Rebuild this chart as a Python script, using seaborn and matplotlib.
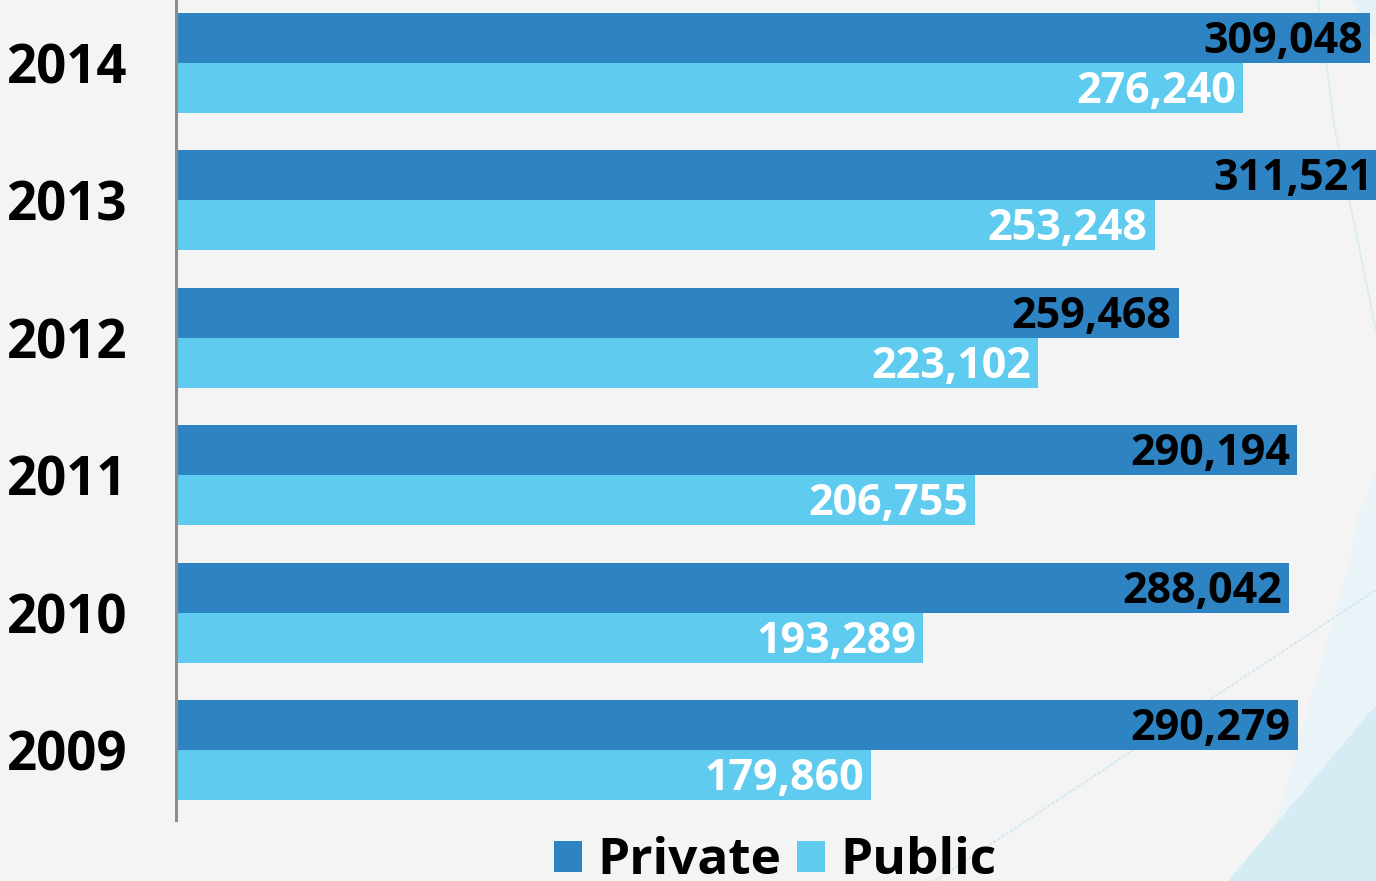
import matplotlib
matplotlib.use("Agg")
import matplotlib.pyplot as plt
from matplotlib.patches import Polygon, Patch
from matplotlib.lines import Line2D
import pandas as pd
import seaborn as sns

# Enrolment by sector, newest year first
years = ["2014", "2013", "2012", "2011", "2010", "2009"]
private = [309048, 311521, 259468, 290194, 288042, 290279]
public = [276240, 253248, 223102, 206755, 193289, 179860]
sectors = ["Private", "Public"]

bar_colors = ["#2E83C3", "#5ECBEF"]
value_colors = ["#000000", "#FFFFFF"]
bg = "#F4F4F4"

df = pd.DataFrame({
    "Year": years * 2,
    "Sector": [sectors[0]] * len(years) + [sectors[1]] * len(years),
    "Students": private + public,
})

sns.set_theme(style="white")
plt.rcParams["font.family"] = ["Open Sans", "DejaVu Sans"]

W, H = 1376, 881
fig = plt.figure(figsize=(W / 100, H / 100), dpi=100, facecolor=bg)


def px(x, y):
    """Pixel position (origin top-left) to figure fraction."""
    return (x / W, 1 - y / H)


# soft decorative shapes in the lower-right corner
fig.add_artist(Polygon([px(1376, 470), px(1357, 520), px(1350, 560), px(1277, 820),
                        px(1262, 881), px(1376, 881)], closed=True,
                       transform=fig.transFigure, facecolor="#EAF3F7",
                       edgecolor="none", zorder=0))
fig.add_artist(Polygon([px(1376, 705), px(1228, 881), px(1376, 881)], closed=True,
                       transform=fig.transFigure, facecolor="#D6ECF5",
                       edgecolor="none", zorder=0))
fig.add_artist(Polygon([px(1352, 0), px(1376, 0), px(1376, 40)], closed=True,
                       transform=fig.transFigure, facecolor="#E6F1F6",
                       edgecolor="none", zorder=0))
fig.add_artist(Line2D([935 / W, 1376 / W], [1 - 881 / H, 1 - 590 / H],
                      transform=fig.transFigure, color="#CCE6F2", lw=1.2,
                      ls=(0, (2, 1)), zorder=0))
fig.add_artist(Line2D([1318 / W, 1335 / W, 1376 / W], [1, 1 - 130 / H, 1 - 330 / H],
                      transform=fig.transFigure, color="#D8ECF5", lw=1.2, zorder=0))

ax = fig.add_axes([176 / W, 61 / H, 1200 / W, 820 / H])
ax.set_facecolor("none")

sns.barplot(data=df, y="Year", x="Students", hue="Sector", order=years,
            hue_order=sectors, palette=bar_colors, width=0.727, saturation=1,
            orient="h", ax=ax, legend=False, edgecolor="none")

ax.set_xlim(0, 310570)
ax.set_ylim(5.509, -0.458)

for container, txt_color in zip(ax.containers, value_colors):
    for patch in container:
        v = patch.get_width()
        ax.annotate(f"{int(round(v)):,}",
                    xy=(v, patch.get_y() + patch.get_height() / 2),
                    xytext=(-5, -2.5), textcoords="offset points",
                    ha="right", va="center", fontsize=31, fontweight="bold",
                    color=txt_color, annotation_clip=False)

ax.set_xlabel("")
ax.set_ylabel("")
ax.set_xticks([])
ax.tick_params(axis="y", length=0, pad=35, labelsize=38)
for lbl in ax.get_yticklabels():
    lbl.set_fontweight("bold")
    lbl.set_color("#000000")

for side in ["top", "right", "bottom"]:
    ax.spines[side].set_visible(False)
ax.spines["left"].set_color("#8C8C8C")
ax.spines["left"].set_linewidth(2.2)

handles = [Patch(facecolor=c, edgecolor="none", label=s)
           for c, s in zip(bar_colors, sectors)]
fig.legend(handles=handles, loc="lower center", bbox_to_anchor=(775 / W, -0.006),
           ncol=2, frameon=False, handlelength=0.55,
           handleheight=0.55, handletextpad=0.3, columnspacing=0.3,
           borderpad=0, borderaxespad=0, labelcolor="#000000",
           prop={"size": 37, "weight": "bold"})

fig.savefig("out.png", dpi=100, facecolor=bg)
